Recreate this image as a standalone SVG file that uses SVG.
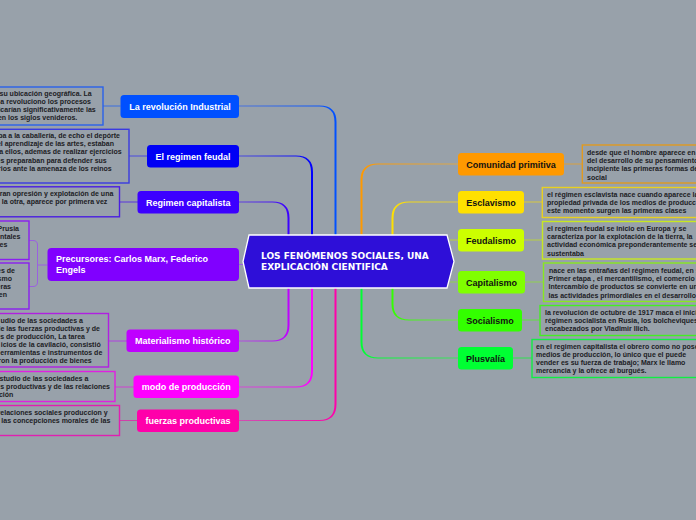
<svg xmlns="http://www.w3.org/2000/svg" width="696" height="520" viewBox="0 0 696 520">
<defs>
<linearGradient id="g1"><stop offset="0" stop-color="#4a72dc"/><stop offset="1" stop-color="#0050ff"/></linearGradient>
<linearGradient id="g2"><stop offset="0" stop-color="#4a4adc"/><stop offset="1" stop-color="#0000ff"/></linearGradient>
<linearGradient id="g3"><stop offset="0" stop-color="#6040dc"/><stop offset="1" stop-color="#3c00ff"/></linearGradient>
<linearGradient id="g4"><stop offset="0" stop-color="#b050dc"/><stop offset="1" stop-color="#bf00ff"/></linearGradient>
<linearGradient id="g5"><stop offset="0" stop-color="#d050d0"/><stop offset="1" stop-color="#ff00ff"/></linearGradient>
<linearGradient id="g6"><stop offset="0" stop-color="#d050b0"/><stop offset="1" stop-color="#ff00aa"/></linearGradient>
<linearGradient id="g7" x1="1" x2="0"><stop offset="0" stop-color="#d8a850"/><stop offset="1" stop-color="#ff9900"/></linearGradient>
<linearGradient id="g8" x1="1" x2="0"><stop offset="0" stop-color="#d8c850"/><stop offset="1" stop-color="#ffe000"/></linearGradient>
<linearGradient id="g9" x1="1" x2="0"><stop offset="0" stop-color="#70e050"/><stop offset="1" stop-color="#33ff00"/></linearGradient>
<linearGradient id="g10" x1="1" x2="0"><stop offset="0" stop-color="#40e060"/><stop offset="1" stop-color="#00ff33"/></linearGradient>
</defs>
<style>
text{font-family:"Liberation Sans",Arial,sans-serif;font-weight:700}
.d{font-size:7px;fill:#1c2024}
.e{text-anchor:end}
.n{font-size:9px;text-anchor:middle}
.w{fill:#fff}
.k{fill:#111}
.b{fill:none;stroke-width:1.4}
.t{fill:none;stroke-width:1}
</style>
<rect width="696" height="520" fill="#98a1aa"/>
<g id="connectors">
<path fill="url(#g1)" d="M239 105.500H319.500Q336.500 105.500 336.500 122V240H334.500V122Q334.500 106.500 319.500 106.500H239Z"/>
<path fill="url(#g2)" d="M239 155.500H296Q313 155.500 313 172V240H311V172Q311 156.500 296 156.500H239Z"/>
<path fill="url(#g3)" d="M239 201.500H272.500Q289.500 201.500 289.500 218V240H287.500V218Q287.500 202.500 272.500 202.500H239Z"/>
<path fill="url(#g4)" d="M239 340.500H272.500Q287.500 340.500 287.500 325V285H289.500V325Q289.500 341.500 272.500 341.500H239Z"/>
<path fill="url(#g5)" d="M239 386.500H296Q311 386.500 311 371V285H313V371Q313 387.500 296 387.500H239Z"/>
<path fill="url(#g6)" d="M239 420H319.500Q334.500 420 334.500 404V285H336.500V404Q336.500 421 319.500 421H239Z"/>
<path fill="url(#g7)" d="M458 163.500H378Q360.500 163.500 360.500 180V240H362.500V180Q362.500 164.500 378 164.500H458Z"/>
<path fill="url(#g8)" d="M458 201.500H409Q391.500 201.500 391.500 218V240H393.500V218Q393.500 202.500 409 202.500H458Z"/>
<path fill="url(#g9)" d="M458 320.500H409Q391.500 320.500 391.500 304V285H393.500V304Q393.500 319.500 409 319.500H458Z"/>
<path fill="url(#g10)" d="M458 358.500H378Q360.500 358.500 360.500 342V285H362.500V342Q362.500 357.500 378 357.500H458Z"/>
<path class="t" stroke="#3a6ee0" d="M103 106H120.500"/>
<path class="t" stroke="#4a4ae0" d="M129 156H147"/>
<path class="t" stroke="#5a35dd" d="M119 202H138"/>
<path class="t" stroke="#9a60e0" d="M239 264.500H243M37.500 265H47.500"/>
<path fill="none" stroke="#9a60e0" stroke-width="1" d="M29 240.500H33Q37.500 240.500 37.500 245V282Q37.500 286.500 33 286.500H29"/>
<path class="t" stroke="#b040e0" d="M108 341H127"/>
<path class="t" stroke="#d040d0" d="M115 387H134"/>
<path class="t" stroke="#d040a8" d="M119 420.500H137"/>
<path class="t" stroke="#d8a040" d="M564 164H582"/>
<path class="t" stroke="#d8c840" d="M524 202H542"/>
<path class="t" stroke="#b8d040" d="M450 240H458M524 240H542"/>
<path class="t" stroke="#90d050" d="M450 282H458M525 282H543"/>
<path class="t" stroke="#60e040" d="M522 320H540"/>
<path class="t" stroke="#30e050" d="M513 358H532"/>
</g>
<g id="central">
<path d="M249 235H447L454 261.500L447 288H249L243 261.500Z" fill="#2e0fd8" stroke="#fff" stroke-width="1.300"/>
<text x="261" y="259" font-size="9" class="w" style="font-family:'DejaVu Sans',sans-serif">LOS FENÓMENOS SOCIALES, UNA</text>
<text x="261" y="270" font-size="9" class="w" style="font-family:'DejaVu Sans',sans-serif">EXPLICACIÓN CIENTIFICA</text>
</g>
<g id="n-revolucion"><rect x="120.500" y="95" width="118.500" height="23" rx="3.500" fill="#0050ff"/><text class="n w" x="180" y="109.500">La revolución Industrial</text>
<rect class="b" x="-5" y="87" width="108" height="38" stroke="#2a62ea"/>
<text class="d e" x="91.700" y="95.800">su ubicación geográfica. La</text><text class="d e" x="91" y="103.800">a revoluciono los procesos</text><text class="d e" x="95.700" y="111.800">ficarían significativamente las</text><text class="d e" x="77.300" y="119.800">en los siglos venideros.</text></g>
<g id="n-feudal"><rect x="147" y="145" width="92" height="22.500" rx="3.500" fill="#0000f5"/><text class="n w" x="193" y="159.500">El regimen feudal</text>
<rect class="b" x="-5" y="129.300" width="134" height="53.700" stroke="#3a3ae0"/>
<text class="d e" x="120" y="137.500">ba a la caballería, de echo el depórte</text><text class="d e" x="114" y="145.800">el aprendizaje de las artes, estaban</text><text class="d e" x="121.700" y="154.200">a ellos, ademas de realizar ejercicios</text><text class="d e" x="106.700" y="162.500">es preparaban para defender sus</text><text class="d e" x="111.700" y="170.500">rios ante la amenaza de los reinos</text></g>
<g id="n-capitalista"><rect x="137.500" y="191" width="101.500" height="22.500" rx="3.500" fill="#3c00ff"/><text class="n w" x="188.300" y="205.500">Regimen capitalista</text>
<rect class="b" x="-5" y="186.800" width="124.500" height="30" stroke="#4a1fe0"/>
<text class="d e" x="113.300" y="195.800">ran opresión y explotación de una</text><text class="d e" x="107.300" y="203.800">la otra, aparece por primera vez</text></g>
<g id="n-precursores"><rect x="47.500" y="248" width="191.500" height="33" rx="4" fill="#8000ff"/><text font-size="9" class="w" x="56" y="262">Precursores: Carlos Marx, Federico</text><text font-size="9" class="w" x="56" y="273">Engels</text>
<rect class="b" x="-5" y="221" width="34" height="38.500" stroke="#8a1ff0"/>
<text class="d e" x="19" y="230.800">Prusia</text><text class="d e" x="20.300" y="239">ntales</text><text class="d e" x="7.300" y="247">es</text>
<rect class="b" x="-5" y="263" width="34" height="46" stroke="#8a1ff0"/>
<text class="d e" x="15" y="273.200">es de</text><text class="d e" x="12" y="281">smo</text><text class="d e" x="11" y="289">eras</text><text class="d e" x="7" y="297">en</text></g>
<g id="n-materialismo"><rect x="126.500" y="329.500" width="112.500" height="22.500" rx="3.500" fill="#bf00ff"/><text class="n w" x="182.700" y="344">Materialismo histórico</text>
<rect class="b" x="-5" y="313.500" width="113.500" height="53.500" stroke="#b020e0"/>
<text class="d e" x="83" y="322.500">udio de las sociedades a</text><text class="d e" x="100" y="330.500">le las fuerzas productivas y de</text><text class="d e" x="85" y="338.500">es de producción, La tarea</text><text class="d e" x="100.700" y="346.500">icios de la cavilació, consistió</text><text class="d e" x="102.300" y="354.500">erramientas e instrumentos de</text><text class="d e" x="91.700" y="362.500">ron la producción de bienes</text></g>
<g id="n-modo"><rect x="133.500" y="375.500" width="105.500" height="22.500" rx="3.500" fill="#ff00ff"/><text class="n w" x="186.200" y="390">modo de producción</text>
<rect class="b" x="-5" y="371.500" width="120" height="30" stroke="#e020e0"/>
<text class="d e" x="88.300" y="380.800">studio de las sociedades a</text><text class="d e" x="110" y="389">s productivas y de las relaciones</text><text class="d e" x="13.300" y="397">ción</text></g>
<g id="n-fuerzas"><rect x="137" y="409.500" width="102" height="22.500" rx="3.500" fill="#ff00aa"/><text class="n w" x="188" y="424">fuerzas productivas</text>
<rect class="b" x="-5" y="405.500" width="124.500" height="30" stroke="#e020b0"/>
<text class="d e" x="107.700" y="414.500">relaciones sociales produccion y</text><text class="d e" x="110.300" y="422.500">las concepciones morales de las</text></g>
<g id="n-comunidad"><rect x="458" y="153" width="106" height="22.500" rx="3.500" fill="#ff9900"/><text class="n k" x="511" y="167.500">Comunidad primitiva</text>
<rect class="b" x="582.300" y="145" width="120" height="38" stroke="#e09a20"/>
<text class="d" x="587" y="155.200">desde que el hombre aparece en</text><text class="d" x="587" y="163">del desarrollo de su pensamiento</text><text class="d" x="587" y="171">incipiente las primeras formas de</text><text class="d" x="587" y="179.500">social</text></g>
<g id="n-esclavismo"><rect x="458" y="191" width="66" height="22.500" rx="3.500" fill="#ffe000"/><text class="n k" x="491" y="205.500">Esclavismo</text>
<rect class="b" x="542.300" y="187.500" width="160" height="30" stroke="#e8d020"/>
<text class="d" x="547" y="196.800">el régimen esclavista nace cuando aparece la</text><text class="d" x="547" y="205">propiedad privada de los medios de producc</text><text class="d" x="547" y="213">este momento surgen las primeras clases</text></g>
<g id="n-feudalismo"><rect x="458" y="229" width="66" height="22.500" rx="3.500" fill="#ccff00"/><text class="n k" x="491" y="243.500">Feudalismo</text>
<rect class="b" x="542.500" y="221.500" width="160" height="37.500" stroke="#c8e820"/>
<text class="d" x="547" y="230.800">el regimen feudal se inicio en Europa y se</text><text class="d" x="547" y="239">caracteriza por la explotación de la tierra, la</text><text class="d" x="547" y="247">actividad económica preponderantemente se</text><text class="d" x="547" y="255.500">sustentaba</text></g>
<g id="n-capitalismo"><rect x="458" y="271" width="67" height="22.500" rx="3.500" fill="#80ff00"/><text class="n k" x="491.500" y="285.500">Capitalismo</text>
<rect class="b" x="543.500" y="263" width="160" height="38.500" stroke="#88e820"/>
<text class="d" x="549" y="273.200">nace en las entrañas del régimen feudal, en s</text><text class="d" x="548.500" y="281.200">Primer etapa , el mercantilismo, el comercio</text><text class="d" x="548.500" y="289.200">Intercambio de productos se convierte en un</text><text class="d" x="548.500" y="297.500">las actividades primordiales en el desarrollo</text></g>
<g id="n-socialismo"><rect x="458" y="309" width="64" height="22.500" rx="3.500" fill="#33ff00"/><text class="n k" x="490" y="323.500">Socialismo</text>
<rect class="b" x="540" y="305.500" width="160" height="30" stroke="#44ee22"/>
<text class="d" x="545" y="314.800">la revolución de octubre de 1917 maca el inici</text><text class="d" x="545" y="323">régimen socialista en Rusia, los bolcheviques</text><text class="d" x="545" y="331">encabezados por Vladimir Ilich.</text></g>
<g id="n-plusvalia"><rect x="458" y="347" width="55" height="22.500" rx="3.500" fill="#00ff33"/><text class="n k" x="485.500" y="361.500">Plusvalía</text>
<rect class="b" x="532" y="339.500" width="170" height="38" stroke="#11ee44"/>
<text class="d" x="536" y="348.800">en el regimen capitalista el obrero como no pose</text><text class="d" x="536" y="357">medios de producción, lo único que el puede</text><text class="d" x="536" y="365">vender es su fuerza  de trabajo; Marx le llamo</text><text class="d" x="536" y="373.200">mercancia y la ofrece al burgués.</text></g>
</svg>
